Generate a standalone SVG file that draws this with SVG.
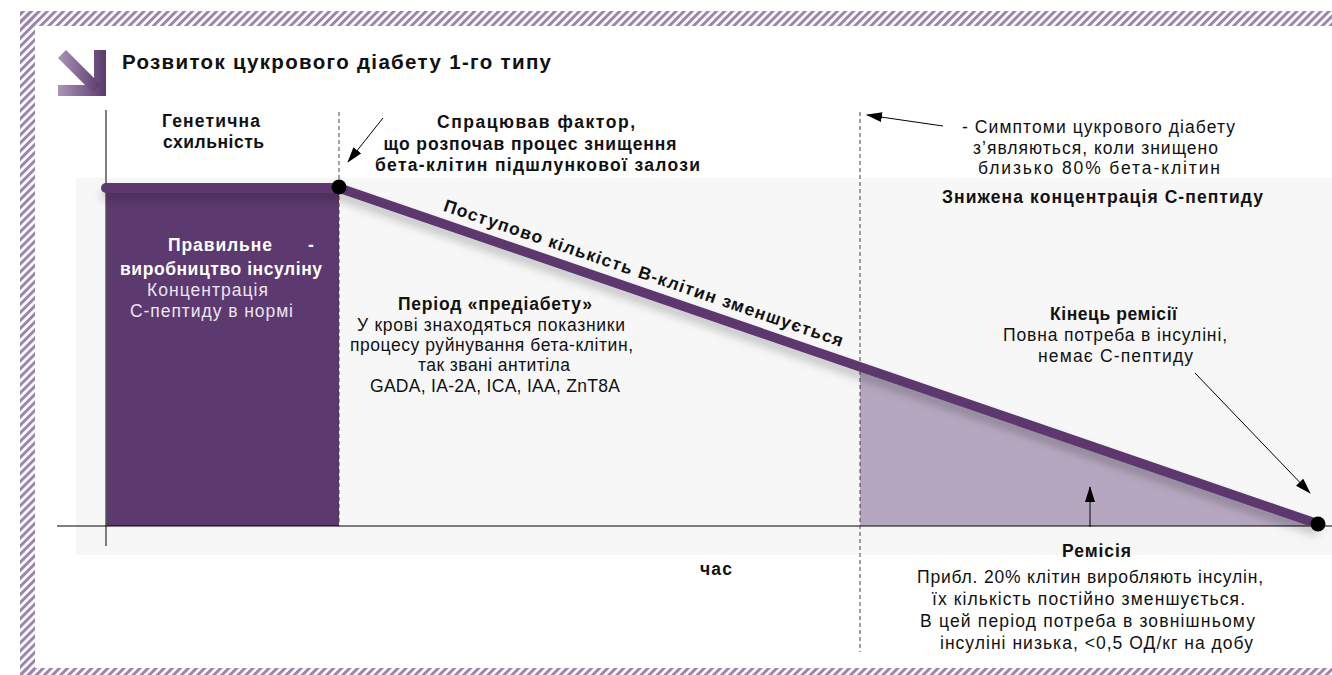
<svg xmlns="http://www.w3.org/2000/svg" width="1332" height="675" viewBox="0 0 1332 675">
  <defs>
    <pattern id="hatch" width="5.7" height="5.7" patternUnits="userSpaceOnUse" patternTransform="rotate(45)">
      <rect x="0" y="0" width="3" height="5.7" fill="#9b85ab"/>
    </pattern>
    <linearGradient id="iconGrad" x1="0" y1="0" x2="1" y2="0">
      <stop offset="0" stop-color="#a995b8"/>
      <stop offset="1" stop-color="#5b3a6e"/>
    </linearGradient>
    <filter id="shadow" x="-10%" y="-20%" width="120%" height="160%">
      <feDropShadow dx="0" dy="7" stdDeviation="5" flood-color="#000" flood-opacity="0.22"/>
    </filter>
    <marker id="arrowBig" viewBox="0 0 16 10" refX="15" refY="5" markerWidth="16" markerHeight="10" orient="auto" markerUnits="userSpaceOnUse">
      <path d="M0,0 L16,5 L0,10 Z" fill="#000"/>
    </marker>
  </defs>
  <style>
    text { font-family: "Liberation Sans", Arial, sans-serif; fill: #111; font-size: 17.5px; }
    .b { font-weight: bold; }
    .w { fill: #ffffff; }
    .wl { fill: #ece4f0; }
    .dash { stroke: #444; stroke-width: 1; stroke-dasharray: 4 3; fill: none; }
    .conn { stroke: #000; stroke-width: 1; fill: none; }
  </style>

  <rect x="0" y="0" width="1332" height="675" fill="#ffffff"/>

  <!-- hatched frame -->
  <g id="frame">
    <rect x="20" y="11" width="1312" height="15" fill="url(#hatch)"/>
    <rect x="20" y="11" width="15" height="664" fill="url(#hatch)"/>
    <rect x="20" y="668" width="1312" height="7" fill="url(#hatch)"/>
  </g>

  <!-- title -->
  <g id="title">
    <polygon points="94,50 106,50 106,96 58,96 58,85 94,85" fill="url(#iconGrad)"/>
    <polygon points="58,58 66,50 101,85 93,93" fill="url(#iconGrad)"/>
    <text class="b" x="122" y="69" textLength="429" lengthAdjust="spacing" style="font-size:20.5px">Розвиток цукрового діабету 1-го типу</text>
  </g>

  <!-- background panel -->
  <rect x="76" y="178" width="1256" height="377" fill="#f7f7f7"/>

  <!-- areas -->
  <g id="healthy-area">
    <rect x="106" y="186" width="233" height="340" fill="#5c396e"/>
    <text class="b w" y="251"><tspan x="168" textLength="104" lengthAdjust="spacing">Правильне</tspan><tspan x="308">-</tspan></text>
    <text class="b w" x="221" y="275" text-anchor="middle" textLength="202" lengthAdjust="spacing">виробництво інсуліну</text>
    <text class="wl" x="207.5" y="296" text-anchor="middle" textLength="121" lengthAdjust="spacing">Концентрація</text>
    <text class="wl" x="211.5" y="317" text-anchor="middle" textLength="163" lengthAdjust="spacing">С-пептиду в нормі</text>
  </g>

  <g id="remission-area">
    <polygon points="860,366 1318,523 1318,526 860,526" fill="#b5a7bf"/>
  </g>

  <!-- axes -->
  <g id="axes">
    <line x1="106" y1="110" x2="106" y2="546" stroke="#555" stroke-width="1.5"/>
    <line x1="57" y1="526" x2="1332" y2="526" stroke="#000" stroke-width="1"/>
    <text class="b" x="716" y="575" text-anchor="middle" textLength="32" lengthAdjust="spacing">час</text>
  </g>

  <!-- dashed markers -->
  <g id="markers">
    <line class="dash" x1="339" y1="112" x2="339" y2="526"/>
    <line class="dash" x1="860" y1="112" x2="860" y2="652"/>
  </g>

  <!-- beta-cell curve -->
  <g id="curve">
    <g filter="url(#shadow)">
      <line x1="106" y1="188" x2="339" y2="188" stroke="#5c396e" stroke-width="10" stroke-linecap="round"/>
      <line x1="339" y1="188" x2="1318" y2="524" stroke="#5c396e" stroke-width="9.5"/>
    </g>
    <circle cx="339" cy="187" r="7.5" fill="#000"/>
    <circle cx="1318" cy="524" r="7.5" fill="#000"/>
    <g transform="translate(638,289) rotate(18.9)">
      <text class="b" x="0" y="-11" text-anchor="middle" textLength="421" lengthAdjust="spacing">Поступово кількість В-клітин зменшується</text>
    </g>
  </g>

  <!-- labels -->
  <g id="genetic">
    <text class="b" x="211" y="127" text-anchor="middle" textLength="98" lengthAdjust="spacing">Генетична</text>
    <text class="b" x="213.5" y="148" text-anchor="middle" textLength="101" lengthAdjust="spacing">схильність</text>
  </g>

  <g id="trigger">
    <text class="b" x="536" y="128" text-anchor="middle" textLength="198" lengthAdjust="spacing">Спрацював фактор,</text>
    <text class="b" x="530" y="150" text-anchor="middle" textLength="293" lengthAdjust="spacing">що розпочав процес знищення</text>
    <text class="b" x="537.5" y="171" text-anchor="middle" textLength="325" lengthAdjust="spacing">бета-клітин підшлункової залози</text>
  </g>

  <g id="symptoms">
    <text x="1098.5" y="133" text-anchor="middle" textLength="273" lengthAdjust="spacing">- Симптоми цукрового діабету</text>
    <text x="1095.5" y="154" text-anchor="middle" textLength="245" lengthAdjust="spacing">з’являються, коли знищено</text>
    <text x="1099" y="174" text-anchor="middle" textLength="242" lengthAdjust="spacing">близько 80% бета-клітин</text>
    <text class="b" x="1102.5" y="203" text-anchor="middle" textLength="321" lengthAdjust="spacing">Знижена концентрація С-пептиду</text>
  </g>

  <g id="prediabetes">
    <text class="b" x="495" y="310" text-anchor="middle" textLength="194" lengthAdjust="spacing">Період «предіабету»</text>
    <text x="491" y="331" text-anchor="middle" textLength="268" lengthAdjust="spacing">У крові знаходяться показники</text>
    <text x="491.5" y="351" text-anchor="middle" textLength="283" lengthAdjust="spacing">процесу руйнування бета-клітин,</text>
    <text x="494" y="371" text-anchor="middle" textLength="152" lengthAdjust="spacing">так звані антитіла</text>
    <text x="495" y="392" text-anchor="middle" textLength="250" lengthAdjust="spacing">GADA, IA-2A, ICA, IAA, ZnT8A</text>
  </g>

  <g id="end-remission">
    <text class="b" x="1113.5" y="320" text-anchor="middle" textLength="127" lengthAdjust="spacing">Кінець ремісії</text>
    <text x="1115" y="341" text-anchor="middle" textLength="224" lengthAdjust="spacing">Повна потреба в інсуліні,</text>
    <text x="1115.5" y="362" text-anchor="middle" textLength="155" lengthAdjust="spacing">немає С-пептиду</text>
  </g>

  <g id="remission">
    <text class="b" x="1096.5" y="557" text-anchor="middle" textLength="69" lengthAdjust="spacing">Ремісія</text>
    <text x="1090" y="583" text-anchor="middle" textLength="346" lengthAdjust="spacing">Прибл. 20% клітин виробляють інсулін,</text>
    <text x="1088.5" y="605" text-anchor="middle" textLength="313" lengthAdjust="spacing">їх кількість постійно зменшується.</text>
    <text x="1087.5" y="627" text-anchor="middle" textLength="335" lengthAdjust="spacing">В цей період потреба в зовнішньому</text>
    <text x="1096.5" y="649" text-anchor="middle" textLength="313" lengthAdjust="spacing">інсуліні низька, &lt;0,5 ОД/кг на добу</text>
  </g>

  <!-- connectors -->
  <g id="connectors">
    <line class="conn" x1="383" y1="118" x2="348" y2="162" marker-end="url(#arrowBig)"/>
    <line class="conn" x1="943" y1="126" x2="867" y2="115" marker-end="url(#arrowBig)"/>
    <line class="conn" x1="1195" y1="373" x2="1310" y2="493" marker-end="url(#arrowBig)"/>
    <line class="conn" x1="1090" y1="527" x2="1090" y2="487" marker-end="url(#arrowBig)"/>
  </g>
</svg>
